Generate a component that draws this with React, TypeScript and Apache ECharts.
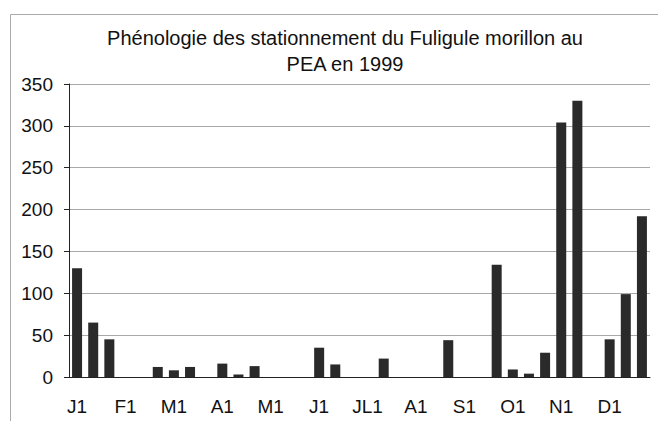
import React, { useEffect, useRef } from "react";
import * as echarts from "echarts";

const titleText = "Phénologie des stationnement du Fuligule morillon au\nPEA en 1999";
const months = ["J", "F", "M", "A", "M", "J", "JL", "A", "S", "O", "N", "D"];
const decades = ["1", "2", "3"];
const categories: string[] = months.flatMap((m) => decades.map((d) => m + d));
const counts = [
  130, 65, 45,
  0, 0, 12,
  8, 12, 0,
  16, 3, 13,
  0, 0, 0,
  35, 15, 0,
  0, 22, 0,
  0, 0, 44,
  0, 0, 134,
  9, 4, 29,
  304, 330, 0,
  45, 99, 192,
];
const yTicks = { min: 0, max: 350, interval: 50 };

const FONT = "'Liberation Sans', Arial, Helvetica, sans-serif";

export default function App() {
  const ref = useRef<HTMLDivElement>(null);
  useEffect(() => {
    document.body.style.margin = "0";
    const chart = echarts.init(ref.current!, null, { renderer: "svg" });
    chart.setOption({
      animation: false,
      backgroundColor: "#ffffff",
      graphic: [
        {
          type: "rect",
          shape: { x: 10.5, y: 14.5, width: 700, height: 500 },
          style: { fill: "none", stroke: "#aaaaaa", lineWidth: 1 },
          silent: true,
        },
      ],
      title: {
        text: titleText,
        left: 340,
        top: 20,
        textAlign: "center",
        textStyle: {
          fontFamily: FONT,
          fontSize: 20,
          fontWeight: "normal",
          color: "#111111",
          lineHeight: 26,
        },
      },
      grid: { left: 69, right: 8, top: 84, bottom: 44, containLabel: false },
      xAxis: {
        type: "category",
        data: categories,
        boundaryGap: true,
        axisLine: { lineStyle: { color: "#222222", width: 1 } },
        axisTick: { interval: 0, length: 5, lineStyle: { color: "#222222" } },
        axisLabel: {
          interval: 2,
          margin: 20,
          fontFamily: FONT,
          fontSize: 19,
          color: "#111111",
        },
        splitLine: { show: false },
      },
      yAxis: {
        type: "value",
        min: yTicks.min,
        max: yTicks.max,
        interval: yTicks.interval,
        axisLine: { show: true, lineStyle: { color: "#222222", width: 1 } },
        axisTick: { show: true, length: 5, lineStyle: { color: "#222222" } },
        axisLabel: {
          margin: 16,
          fontFamily: FONT,
          fontSize: 19,
          color: "#111111",
        },
        splitLine: { show: true, lineStyle: { color: "#a8a8a8", width: 1 } },
      },
      series: [
        {
          type: "bar",
          data: counts,
          barWidth: 10,
          itemStyle: { color: "#2a2a2a" },
        },
      ],
    });
    return () => chart.dispose();
  }, []);
  return <div ref={ref} style={{ width: 658, height: 421 }} />;
}
